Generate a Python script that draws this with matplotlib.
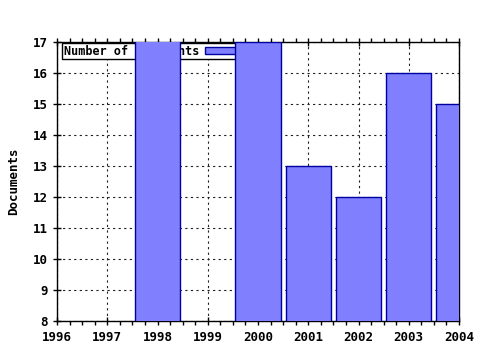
import matplotlib
matplotlib.use("Agg")
import matplotlib.pyplot as plt
from matplotlib.ticker import MultipleLocator

years = [1998, 2000, 2001, 2002, 2003, 2004]
documents = [18, 17, 13, 12, 16, 15]
series_label = "Number of documents"
y_label = "Documents"

font = ["DejaVu Sans Mono"]
fig = plt.figure(figsize=(4.8, 3.5), dpi=100)
ax = fig.add_axes([0.11875, 0.083, 0.8375, 0.797])

bars = ax.bar(years, documents, width=0.9, color="#8080ff", edgecolor="#0000a0",
              linewidth=1.0, zorder=3, label=series_label)

ax.set_xlim(1996, 2004)
ax.set_ylim(8, 17)
ax.xaxis.set_major_locator(MultipleLocator(1))
ax.xaxis.set_minor_locator(MultipleLocator(0.25))
ax.yaxis.set_major_locator(MultipleLocator(1))

ax.grid(True, which="major", color="#202020", linestyle=(0, (2, 3)), linewidth=0.8, zorder=0)
ax.set_axisbelow(True)

ax.tick_params(axis="x", which="major", direction="inout", length=6, width=1, top=True,
               labelsize=9, pad=4)
ax.tick_params(axis="x", which="minor", direction="out", length=3, width=1, top=True)
ax.tick_params(axis="y", which="major", direction="inout", length=6, width=1, labelsize=9)
for lbl in ax.get_xticklabels() + ax.get_yticklabels():
    lbl.set_fontfamily(font)
    lbl.set_fontweight("bold")

for s in ax.spines.values():
    s.set_linewidth(1.0)
    s.set_color("black")

ax.set_ylabel(y_label, fontfamily=font, fontweight="bold", fontsize=9, labelpad=9)

leg = ax.legend(loc="upper left", bbox_to_anchor=(0.012, 0.997), markerfirst=False,
                frameon=True, fancybox=False, framealpha=1, edgecolor="black",
                prop={"family": font, "weight": "bold", "size": 8.5},
                borderpad=0.15, handlelength=2.6, handleheight=0.6, handletextpad=0.5,
                borderaxespad=0)
leg.get_frame().set_linewidth(1.0)
leg.set_zorder(1)

fig.savefig("out.png", dpi=100)
